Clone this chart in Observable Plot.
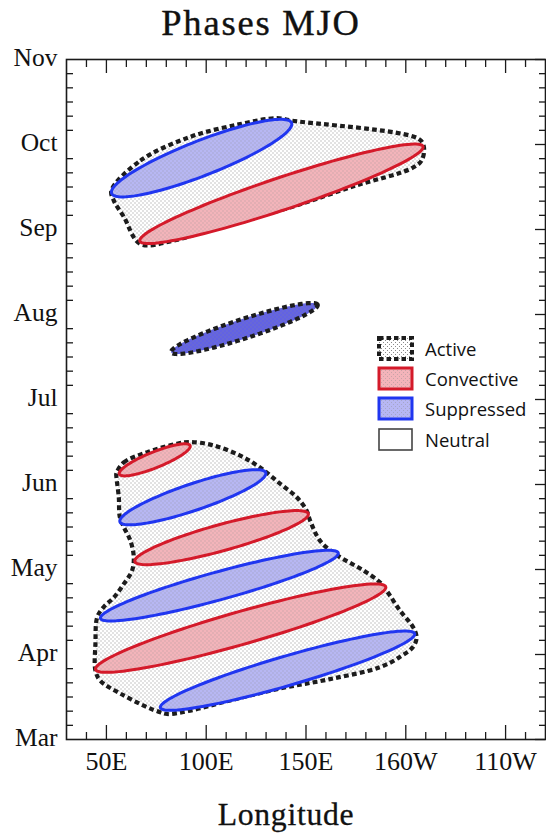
<!DOCTYPE html>
<html>
<head>
<meta charset="utf-8">
<script src="https://cdn.jsdelivr.net/npm/d3@7"></script>
<script src="https://cdn.jsdelivr.net/npm/@observablehq/plot@0.6"></script>
<style>
  body { margin: 0; background: #fff; }
  #wrap { position: relative; width: 546px; height: 835px; font-family: "Liberation Serif", serif; color: #111; }
  #title { position: absolute; left: 61px; width: 400px; top: 5px; text-align: center; font-size: 36.5px; line-height: 36.5px; letter-spacing: 1.8px; -webkit-text-stroke: 0.4px #111; }
  #xlabel { position: absolute; left: 186px; width: 200px; top: 799px; text-align: center; font-size: 31.7px; line-height: 31.7px; letter-spacing: 0.7px; -webkit-text-stroke: 0.3px #111; }
  #legend { position: absolute; left: 377px; top: 333px; font-family: "Open Sans", sans-serif; font-size: 18.5px; color: #111; }
  .row { display: flex; align-items: center; height: 30.3px; }
  .row svg { display: block; margin-right: 11px; }
  #chart { position: absolute; left: 0; top: 0; }
</style>
</head>
<body>
<svg width="0" height="0" style="position:absolute">
  <defs>
    <pattern id="stip" patternUnits="userSpaceOnUse" width="4" height="4">
      <rect x="0" y="0" width="1" height="1" fill="#8a8a8a"></rect>
      <rect x="2" y="2" width="1" height="1" fill="#8a8a8a"></rect>
    </pattern>
  </defs>
</svg>
<div id="wrap">
  <div id="chart"></div>
  <div id="title">Phases MJO</div>
  <div id="xlabel">Longitude</div>
  <div id="legend"></div>
</div>
<script>
// ---- axis ticks / labels ----
const months = [3, 4, 5, 6, 7, 8, 9, 10, 11];
const monthLabels = ["Mar", "Apr", "May", "Jun", "Jul", "Aug", "Sep", "Oct", "Nov"];
const lonTicks = [50, 100, 150, 200, 250];
const lonLabels = ["50E", "100E", "150E", "160W", "110W"];

// ---- MJO phase envelopes: west tip (lon1, mon1), east tip (lon2, mon2), half width in months ----
const phaseIds   = ["oct-sup", "sep-conv", "aug-sup", "jun-conv", "jun-sup", "may-conv", "may-sup", "apr-conv", "mar-sup"];
const phaseType  = ["suppressed", "convective", "core", "convective", "suppressed", "convective", "suppressed", "convective", "suppressed"];
const phaseLon1  = [52.5, 66.7, 82.4, 56.4, 56.7, 64.2, 47.0, 44.5, 77.0];
const phaseMon1  = [9.44, 8.87, 7.56, 6.13, 5.57, 5.10, 4.43, 3.83, 3.38];
const phaseLon2  = [142.9, 208.7, 155.9, 92.0, 129.9, 151.2, 166.2, 190.0, 204.5];
const phaseMon2  = [10.24, 9.97, 8.11, 6.45, 6.13, 5.65, 5.19, 4.79, 4.24];
const phaseHalf  = [0.22, 0.20, 0.12, 0.10, 0.165, 0.16, 0.17, 0.20, 0.18];

// ---- Active regions (outline vertices: lon, month) ----
const activeAutumn = [
  [52.5, 9.46], [67, 9.81], [92, 10.09], [117, 10.24], [135.4, 10.31], [143, 10.28],
  [206.2, 10.07], [209, 9.98], [207.9, 9.81], [202, 9.71], [175.4, 9.52], [142, 9.26],
  [108.7, 9.05], [83.7, 8.87], [67, 8.83], [58.7, 9.15], [53.7, 9.34]
];
const activeSpring = [
  [55, 6.13], [58.7, 6.26], [70.4, 6.38], [85.4, 6.48], [92, 6.50], [103.7, 6.46],
  [117, 6.34], [127, 6.20], [137, 6.01], [145.4, 5.85], [150.4, 5.69], [152, 5.58],
  [157, 5.34], [165.4, 5.17], [178.7, 4.99], [187, 4.85], [190.4, 4.75], [197, 4.52],
  [203.7, 4.32], [205.4, 4.20], [203.7, 4.09], [197, 3.97], [187, 3.85], [162, 3.71],
  [137, 3.60], [112, 3.46], [92, 3.34], [80.4, 3.30], [77, 3.32], [70.4, 3.38],
  [57, 3.54], [47, 3.69], [44.5, 3.81], [44.5, 4.13], [45.4, 4.44], [48.7, 4.56],
  [53.7, 4.67], [58.7, 4.83], [62.9, 4.99], [63.7, 5.15], [62, 5.34], [58.7, 5.50],
  [56.7, 5.62], [56.2, 5.85], [55, 6.09]
];

// ---- styles ----
const RED = "#d41a2a", RED_FILL = "#f3b4ba";
const BLUE = "#2036f0", BLUE_FILL = "#b7b7f3";
const CORE_FILL = "#6262e4";
const DASH = "#1c1c1c";

// build tables
const activeRows = [];
activeAutumn.forEach(([lon, month]) => activeRows.push({id: "autumn", lon, month}));
activeSpring.forEach(([lon, month]) => activeRows.push({id: "spring", lon, month}));

const ellipseRows = [];
phaseIds.forEach((id, i) => {
  const cx = (phaseLon1[i] + phaseLon2[i]) / 2, cy = (phaseMon1[i] + phaseMon2[i]) / 2;
  const ax = (phaseLon2[i] - phaseLon1[i]) / 2, ay = (phaseMon2[i] - phaseMon1[i]) / 2;
  const n = 120;
  for (let k = 0; k < n; k++) {
    const t = 2 * Math.PI * k / n;
    ellipseRows.push({id, type: phaseType[i], lon: cx + ax * Math.cos(t), month: cy + ay * Math.cos(t) + phaseHalf[i] * Math.sin(t)});
  }
});
const ofType = (t) => ellipseRows.filter(d => d.type === t);

const W = 546, H = 835, mT = 59, mB = 96, mL = 66, mR = 1;
const plotW = W - mL - mR, plotH = H - mT - mB;
const xMinor = d3.range(40, 270, 10).filter(v => !lonTicks.includes(v));
const yMinor = d3.range(0, 48).map(k => 3 + k / 6).filter(v => Math.abs(v - Math.round(v)) > 1e-6);

const line = (data, opts) => Plot.line(data, {x: "lon", y: "month", z: "id", ...opts});
const dashed = {fill: "none", stroke: DASH, strokeWidth: 4.2, strokeDasharray: "4.8,3.2", strokeLinecap: "butt", strokeLinejoin: "miter"};

const chart = Plot.plot({
  width: W, height: H,
  marginTop: mT, marginBottom: mB, marginLeft: mL, marginRight: mR,
  x: {domain: [30, 270]},
  y: {domain: [3, 11]},
  style: {fontFamily: "Liberation Serif, serif", fontSize: "26px", color: "#111", background: "transparent", overflow: "visible"},
  marks: [
    // active regions: stipple fill + dashed outline
    line(activeRows, {curve: "catmull-rom-closed", fill: "url(#stip)", stroke: "none"}),
    line(activeRows, {curve: "catmull-rom-closed", ...dashed}),
    // phase ellipses
    line(ofType("convective"), {curve: "linear-closed", fill: RED_FILL, stroke: "none"}),
    line(ofType("suppressed"), {curve: "linear-closed", fill: BLUE_FILL, stroke: "none"}),
    line(ofType("core"), {curve: "linear-closed", fill: CORE_FILL, stroke: "none"}),
    line(ellipseRows, {curve: "linear-closed", fill: "url(#stip)", fillOpacity: 0.6, stroke: "none"}),
    line(ofType("convective"), {curve: "linear-closed", fill: "none", stroke: RED, strokeWidth: 3}),
    line(ofType("suppressed"), {curve: "linear-closed", fill: "none", stroke: BLUE, strokeWidth: 3}),
    line(ofType("core"), {curve: "linear-closed", ...dashed}),
    // frame + inward ticks
    Plot.frame({stroke: "#1a1a1a", strokeWidth: 1.6}),
    Plot.tickX(xMinor, {x: d => d, insetTop: plotH - 7, stroke: "#1a1a1a", strokeWidth: 1.3}),
    Plot.tickX(lonTicks, {x: d => d, insetTop: plotH - 14, stroke: "#1a1a1a", strokeWidth: 1.3}),
    Plot.tickX(xMinor, {x: d => d, insetBottom: plotH - 8, stroke: "#1a1a1a", strokeWidth: 1.3}),
    Plot.tickX(lonTicks, {x: d => d, insetBottom: plotH - 14, stroke: "#1a1a1a", strokeWidth: 1.3}),
    Plot.tickY(yMinor, {y: d => d, insetRight: plotW - 7, stroke: "#1a1a1a", strokeWidth: 1.3}),
    Plot.tickY(yMinor, {y: d => d, insetLeft: plotW - 6, stroke: "#1a1a1a", strokeWidth: 1.3}),
    Plot.tickY(months, {y: d => d, insetLeft: plotW - 10, stroke: "#1a1a1a", strokeWidth: 1.3}),
    // tick labels
    Plot.axisX(lonTicks, {anchor: "bottom", tickSize: 0, tickPadding: 12, tickFormat: (d, i) => lonLabels[i], label: null, fontSize: 26, stroke: "#111", strokeWidth: 0.45}),
    Plot.axisY(months, {anchor: "left", tickSize: 0, tickPadding: 9, dy: -2, tickFormat: (d, i) => monthLabels[i], label: null, fontSize: 25.5, stroke: "#111", strokeWidth: 0.45})
  ]
});
document.getElementById("chart").appendChild(chart);

// legend
const legendItems = [
  {label: "Active", fill: "url(#stip)", stroke: DASH, sw: 4, dash: "4.5,3"},
  {label: "Convective", fill: RED_FILL, stroke: RED, sw: 3, dash: null, stip: true},
  {label: "Suppressed", fill: BLUE_FILL, stroke: BLUE, sw: 3, dash: null, stip: true},
  {label: "Neutral", fill: "#fff", stroke: "#444", sw: 1.6, dash: null}
];
const legend = d3.select("#legend");
legendItems.forEach(it => {
  const row = legend.append("div").attr("class", "row");
  const s = row.append("svg").attr("width", 37).attr("height", 25);
  s.append("rect").attr("x", 2).attr("y", 2).attr("width", 33).attr("height", 21).attr("fill", it.fill);
  if (it.stip) s.append("rect").attr("x", 2).attr("y", 2).attr("width", 33).attr("height", 21).attr("fill", "url(#stip)").attr("opacity", 0.4);
  s.append("rect").attr("x", 2).attr("y", 2).attr("width", 33).attr("height", 21)
    .attr("fill", "none").attr("stroke", it.stroke).attr("stroke-width", it.sw)
    .attr("stroke-dasharray", it.dash);
  row.append("span").text(it.label);
});
</script>
</body>
</html>
